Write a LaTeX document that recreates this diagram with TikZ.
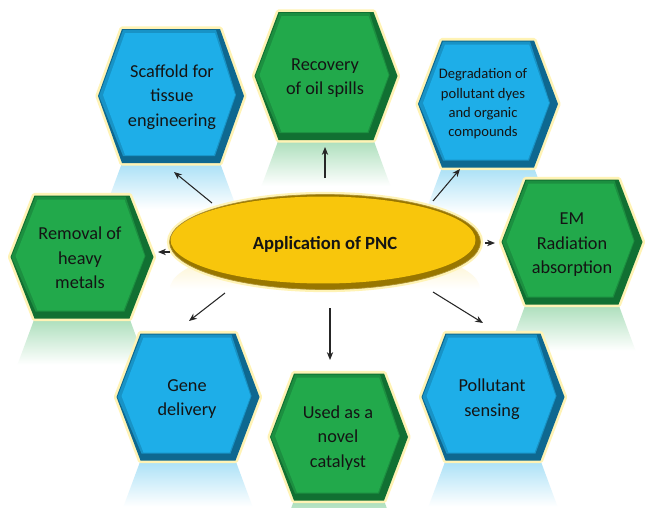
\documentclass[tikz,border=0pt]{standalone}
\usepackage{fontspec}
\setmainfont{Carlito}
\usetikzlibrary{arrows.meta}
\definecolor{bluemain}{HTML}{1EAEE8}
\definecolor{bluemid}{HTML}{1893C6}
\definecolor{bluedark}{HTML}{0E6890}
\definecolor{greenmain}{HTML}{22A94B}
\definecolor{greenmid}{HTML}{1C8F40}
\definecolor{greendark}{HTML}{117032}
\definecolor{glowc}{HTML}{FFF3B5}
\definecolor{goldmain}{HTML}{F8C60C}
\definecolor{golddark}{HTML}{987600}
\definecolor{txt}{HTML}{141414}
\tikzset{
  glowline/.style={draw=glowc, line width=3pt, line join=round},
  lbl/.style={align=center, text=txt, inner sep=0pt, font=\fontsize{10.4}{14}\selectfont},
  lblsmall/.style={align=center, text=txt, inner sep=0pt, font=\fontsize{8.3}{11}\selectfont},
  arr/.style={-{Stealth[length=4.5pt,width=3.6pt]}, line width=0.6pt, black!85},
}
% reflection under a hexagon: cx cy w h colour
\newcommand\hexrefl[5]{%
  \shade[top color=#5main!38!white, bottom color=white]
    ({#1-#3/2+24},{#2+#4/2}) -- ({#1+#3/2-24},{#2+#4/2}) --
    ({#1+#3/2-7},{#2+#4/2+46}) -- ({#1-#3/2+7},{#2+#4/2+46}) -- cycle;}
% bevelled hexagon: cx cy w h colour
\newcommand\hexa[5]{%
  \draw[glowline] ({#1-#3/2},#2) -- ({#1-#3/2+24},{#2-#4/2}) -- ({#1+#3/2-24},{#2-#4/2}) --
    ({#1+#3/2},#2) -- ({#1+#3/2-24},{#2+#4/2}) -- ({#1-#3/2+24},{#2+#4/2}) -- cycle;
  \fill[#5dark] ({#1-#3/2},#2) -- ({#1-#3/2+24},{#2-#4/2}) -- ({#1+#3/2-24},{#2-#4/2}) --
    ({#1+#3/2},#2) -- ({#1+#3/2-24},{#2+#4/2}) -- ({#1-#3/2+24},{#2+#4/2}) -- cycle;
  \fill[#5mid] ({#1-#3/2+1},#2) -- ({#1-#3/2+25},{#2-#4/2+1}) -- ({#1+#3/2-28},{#2-#4/2+1}) --
    ({#1+#3/2-8},{#2-1}) -- ({#1+#3/2-29},{#2+#4/2-7}) -- ({#1-#3/2+25},{#2+#4/2-7}) -- cycle;
  \fill[#5main] ({#1-#3/2+5},{#2-1}) -- ({#1-#3/2+27},{#2-#4/2+4}) -- ({#1+#3/2-29},{#2-#4/2+4}) --
    ({#1+#3/2-9},{#2-1}) -- ({#1+#3/2-30},{#2+#4/2-8}) -- ({#1-#3/2+27},{#2+#4/2-8}) -- cycle;}
\begin{document}
\begin{tikzpicture}[x=0.02cm, y=-0.02cm]
\fill[white] (0,0) rectangle (645,507);
\useasboundingbox (0,0) rectangle (645,507);

% reflections
\hexrefl{171}{96}{146}{134}{blue}
\hexrefl{326}{76}{143}{128}{green}
\hexrefl{488}{104}{140}{127}{blue}
\hexrefl{82}{257}{143}{123}{green}
\hexrefl{572}{242}{141}{125}{green}
\hexrefl{188}{397}{143}{127}{blue}
\hexrefl{339}{437}{138}{127}{green}
\hexrefl{493}{397}{143}{127}{blue}
\shade[top color=goldmain!30!white, bottom color=white]
  (170,289) arc[start angle=180, end angle=0, x radius=3.1cm, y radius=0.9cm] -- cycle;

% hexagons
\hexa{171}{96}{146}{134}{blue}
\hexa{326}{76}{143}{128}{green}
\hexa{488}{104}{140}{127}{blue}
\hexa{82}{257}{143}{123}{green}
\hexa{572}{242}{141}{125}{green}
\hexa{188}{397}{143}{127}{blue}
\hexa{339}{437}{138}{127}{green}
\hexa{493}{397}{143}{127}{blue}

% central ellipse
\draw[glowc, line width=3pt] (325,242) ellipse [x radius=3.11cm, y radius=0.95cm];
\fill[golddark] (325,242) ellipse [x radius=3.11cm, y radius=0.95cm];
\fill[goldmain] (323,240) ellipse [x radius=3.05cm, y radius=0.87cm];
\draw[golddark!80, line width=0.4pt] (325,242) ellipse [x radius=3.11cm, y radius=0.95cm];

% labels
\node[lbl] (nScaffold) at (172,97) {Scaffold for\\tissue\\engineering};
\node[lbl] (nRecovery) at (325,78) {Recovery\\of oil spills};
\node[lblsmall] (nDegradation) at (483,104) {Degradation of\\pollutant dyes\\and organic\\compounds};
\node[lbl] (nRemoval) at (80,258) {Removal of\\heavy\\metals};
\node[lbl] (nEM) at (572,245) {EM\\Radiation\\absorption};
\node[lbl] (nGene) at (187,399) {Gene\\delivery};
\node[lbl] (nUsed) at (338,438) {Used as a\\novel\\catalyst};
\node[lbl] (nPollutant) at (492,399) {Pollutant\\sensing};
\node[lbl, font=\bfseries\fontsize{10.6}{13}\selectfont] (core) at (325,244) {Application of PNC};

% connector ends
\coordinate (o1) at (212,203); \coordinate (t1) at (174,172);
\coordinate (o2) at (325,178); \coordinate (t2) at (325,147);
\coordinate (o3) at (433,201); \coordinate (t3) at (460,169);
\coordinate (o4) at (170,252); \coordinate (t4) at (158,252);
\coordinate (o5) at (485,243); \coordinate (t5) at (495,243);
\coordinate (o6) at (225,293); \coordinate (t6) at (189,321);
\coordinate (o7) at (330,308); \coordinate (t7) at (330,360);
\coordinate (o8) at (433,292); \coordinate (t8) at (483,323);
\foreach \i in {1,...,8} { \draw[arr] (o\i) -- (t\i); }
\end{tikzpicture}
\end{document}
